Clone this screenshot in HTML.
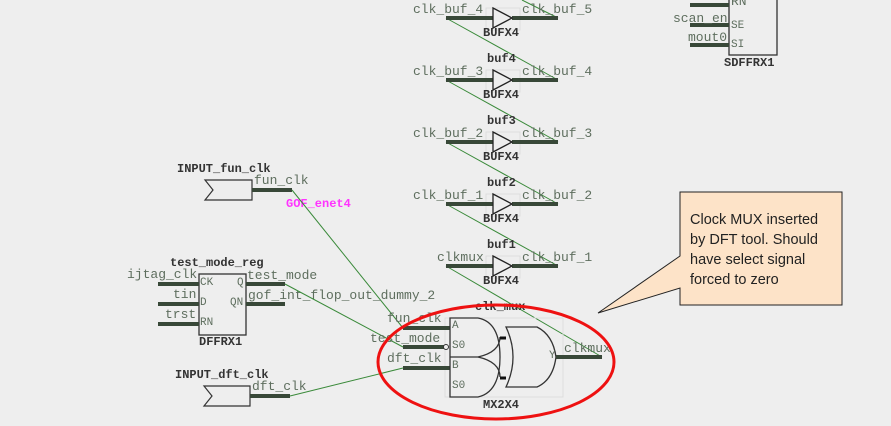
<!DOCTYPE html>
<html><head><meta charset="utf-8"><style>
html,body{margin:0;padding:0;background:#eeeeee;}
svg{display:block;}
.t{font-family:"Liberation Mono",monospace;font-size:13px;fill:#5e6e5e;}
.b{font-family:"Liberation Mono",monospace;font-size:12px;font-weight:bold;fill:#333;}
.w{stroke:#384838;stroke-width:4;}
.n{stroke:#3a8a3a;stroke-width:1;fill:none;}
.s{stroke:#333;stroke-width:1.3;fill:none;}
</style></head><body>
<svg width="891" height="426" viewBox="0 0 891 426" xmlns="http://www.w3.org/2000/svg">
<rect width="891" height="426" fill="#eeeeee"/>
<!-- buffer chain -->
<line class="n" x1="522" y1="0" x2="558" y2="18"/>
<line class="n" x1="446" y1="18" x2="558" y2="80"/>
<line class="n" x1="446" y1="80" x2="558" y2="142"/>
<line class="n" x1="446" y1="142" x2="558" y2="204"/>
<line class="n" x1="446" y1="204" x2="558" y2="266"/>
<line class="n" x1="446" y1="266" x2="602" y2="357"/>
<g id="bufs">
<g transform="translate(0,18)">
<rect x="486" y="-10" width="34" height="22" fill="none" stroke="#ddd"/>
<line class="w" x1="446" y1="0" x2="493" y2="0"/><line class="w" x1="512" y1="0" x2="558" y2="0"/>
<polygon points="493,-10 512,0 493,10" fill="#eee" stroke="#222" stroke-width="1.3"/>
<text class="b" x="483" y="18">BUFX4</text>
</g>
<g transform="translate(0,80)">
<rect x="486" y="-10" width="34" height="22" fill="none" stroke="#ddd"/>
<line class="w" x1="446" y1="0" x2="493" y2="0"/><line class="w" x1="512" y1="0" x2="558" y2="0"/>
<polygon points="493,-10 512,0 493,10" fill="#eee" stroke="#222" stroke-width="1.3"/>
<text class="b" x="483" y="18">BUFX4</text>
</g>
<g transform="translate(0,142)">
<rect x="486" y="-10" width="34" height="22" fill="none" stroke="#ddd"/>
<line class="w" x1="446" y1="0" x2="493" y2="0"/><line class="w" x1="512" y1="0" x2="558" y2="0"/>
<polygon points="493,-10 512,0 493,10" fill="#eee" stroke="#222" stroke-width="1.3"/>
<text class="b" x="483" y="18">BUFX4</text>
</g>
<g transform="translate(0,204)">
<rect x="486" y="-10" width="34" height="22" fill="none" stroke="#ddd"/>
<line class="w" x1="446" y1="0" x2="493" y2="0"/><line class="w" x1="512" y1="0" x2="558" y2="0"/>
<polygon points="493,-10 512,0 493,10" fill="#eee" stroke="#222" stroke-width="1.3"/>
<text class="b" x="483" y="18">BUFX4</text>
</g>
<g transform="translate(0,266)">
<rect x="486" y="-10" width="34" height="22" fill="none" stroke="#ddd"/>
<line class="w" x1="446" y1="0" x2="493" y2="0"/><line class="w" x1="512" y1="0" x2="558" y2="0"/>
<polygon points="493,-10 512,0 493,10" fill="#eee" stroke="#222" stroke-width="1.3"/>
<text class="b" x="483" y="18">BUFX4</text>
</g>
</g>
<text class="t" x="413" y="13">clk_buf_4</text><text class="t" x="522" y="13">clk_buf_5</text>
<text class="b" x="487" y="62">buf4</text>
<text class="t" x="413" y="75">clk_buf_3</text><text class="t" x="522" y="75">clk_buf_4</text>
<text class="b" x="487" y="124">buf3</text>
<text class="t" x="413" y="137">clk_buf_2</text><text class="t" x="522" y="137">clk_buf_3</text>
<text class="b" x="487" y="186">buf2</text>
<text class="t" x="413" y="199">clk_buf_1</text><text class="t" x="522" y="199">clk_buf_2</text>
<text class="b" x="487" y="248">buf1</text>
<text class="t" x="437" y="261">clkmux</text><text class="t" x="522" y="261">clk_buf_1</text>
<!-- SDFFRX1 -->
<rect x="729" y="-2" width="48" height="57" fill="none" stroke="#333" stroke-width="1.3"/>
<line class="w" x1="690" y1="5" x2="729" y2="5"/>
<line class="w" x1="690" y1="25" x2="729" y2="25"/>
<line class="w" x1="690" y1="45" x2="729" y2="45"/>
<text class="t" x="731" y="5" font-size="11">RN</text>
<text class="t" x="731" y="28" style="font-size:11px">SE</text>
<text class="t" x="731" y="47" style="font-size:11px">SI</text>
<text class="t" x="673" y="22">scan_en</text>
<text class="t" x="688" y="41">mout0</text>
<text class="b" x="724" y="66">SDFFRX1</text>
<!-- INPUT_fun_clk -->
<text class="b" x="177" y="172">INPUT_fun_clk</text>
<polygon points="205,180 252,180 252,200 205,200 213,190" fill="none" stroke="#333" stroke-width="1.2"/>
<line class="w" x1="252" y1="190" x2="292" y2="190"/>
<text class="t" x="254" y="184">fun_clk</text>
<text x="286" y="207" style="font-family:'Liberation Mono',monospace;font-size:12px;font-weight:bold;fill:#ff33ff">GOF_enet4</text>
<line class="n" x1="292" y1="190" x2="403" y2="328"/>
<!-- DFF -->
<text class="b" x="170" y="266">test_mode_reg</text>
<rect x="199" y="274" width="47" height="61" fill="none" stroke="#333" stroke-width="1.3"/>
<line class="w" x1="158" y1="284" x2="199" y2="284"/>
<line class="w" x1="158" y1="304" x2="199" y2="304"/>
<line class="w" x1="158" y1="324" x2="199" y2="324"/>
<line class="w" x1="246" y1="284" x2="285" y2="284"/>
<line class="w" x1="246" y1="304" x2="285" y2="304"/>
<text class="t" x="127" y="278">ijtag_clk</text>
<text class="t" x="173" y="298">tin</text>
<text class="t" x="165" y="318">trst</text>
<text class="t" x="200" y="285" style="font-size:11px">CK</text>
<text class="t" x="200" y="305" style="font-size:11px">D</text>
<text class="t" x="200" y="325" style="font-size:11px">RN</text>
<text class="t" x="237" y="285" style="font-size:11px">Q</text>
<text class="t" x="230" y="305" style="font-size:11px">QN</text>
<text class="t" x="247" y="279">test_mode</text>
<text class="t" x="248" y="299">gof_int_flop_out_dummy_2</text>
<text class="b" x="199" y="345">DFFRX1</text>
<line class="n" x1="285" y1="284" x2="403" y2="347"/>
<!-- INPUT_dft_clk -->
<text class="b" x="175" y="378">INPUT_dft_clk</text>
<polygon points="204,386 250,386 250,406 204,406 212,396" fill="none" stroke="#333" stroke-width="1.2"/>
<line class="w" x1="250" y1="396" x2="290" y2="396"/>
<text class="t" x="252" y="390">dft_clk</text>
<line class="n" x1="290" y1="396" x2="403" y2="368"/>
<!-- MUX -->
<rect x="445" y="318" width="118" height="79" fill="none" stroke="#ddd"/>
<text class="b" x="475" y="310">clk_mux</text>
<line class="w" x1="403" y1="328" x2="450" y2="328"/>
<line class="w" x1="403" y1="347" x2="444" y2="347"/>
<line class="w" x1="403" y1="368" x2="450" y2="368"/>
<circle cx="446" cy="347" r="2.5" fill="#eee" stroke="#333"/>
<text class="t" x="387" y="322">fun_clk</text>
<text class="t" x="370" y="342">test_mode</text>
<text class="t" x="387" y="362">dft_clk</text>
<path class="s" d="M450,318 L478,318 Q500,322 500,357 Q500,392 478,397 L450,397 Z"/>
<line class="s" x1="450" y1="357" x2="478" y2="357"/>
<path class="s" d="M478,357 Q500,352 500,337"/>
<path class="s" d="M478,357 Q500,362 500,377"/>
<line x1="500" y1="338" x2="506" y2="338" stroke="#111" stroke-width="3"/>
<line x1="500" y1="378" x2="506" y2="378" stroke="#111" stroke-width="3"/>
<path class="s" d="M506,327 L537,327 Q553,335 556,357 Q553,380 537,387 L506,387 Q520,357 506,327 Z"/>
<line class="w" x1="556" y1="357" x2="602" y2="357"/>
<text class="t" x="452" y="328" style="font-size:11px">A</text>
<text class="t" x="452" y="348" style="font-size:11px">S0</text>
<text class="t" x="452" y="368" style="font-size:11px">B</text>
<text class="t" x="452" y="388" style="font-size:11px">S0</text>
<text class="t" x="549" y="358" style="font-size:11px">Y</text>
<text class="t" x="564" y="352">clkmux</text>
<text class="b" x="483" y="408">MX2X4</text>
<ellipse cx="496" cy="362" rx="118" ry="57" fill="none" stroke="#ee1111" stroke-width="3"/>
<!-- callout -->
<polygon points="680,192 842,192 842,305 680,305 680,288 598,313 680,256" fill="#fde3c8" stroke="#222" stroke-width="1"/>
<text style="font-family:'Liberation Sans',sans-serif;font-size:14.5px;fill:#222">
<tspan x="690" y="224">Clock MUX inserted</tspan>
<tspan x="690" y="244">by DFT tool. Should</tspan>
<tspan x="690" y="264">have select signal</tspan>
<tspan x="690" y="284">forced to zero</tspan>
</text>
</svg>
</body></html>
